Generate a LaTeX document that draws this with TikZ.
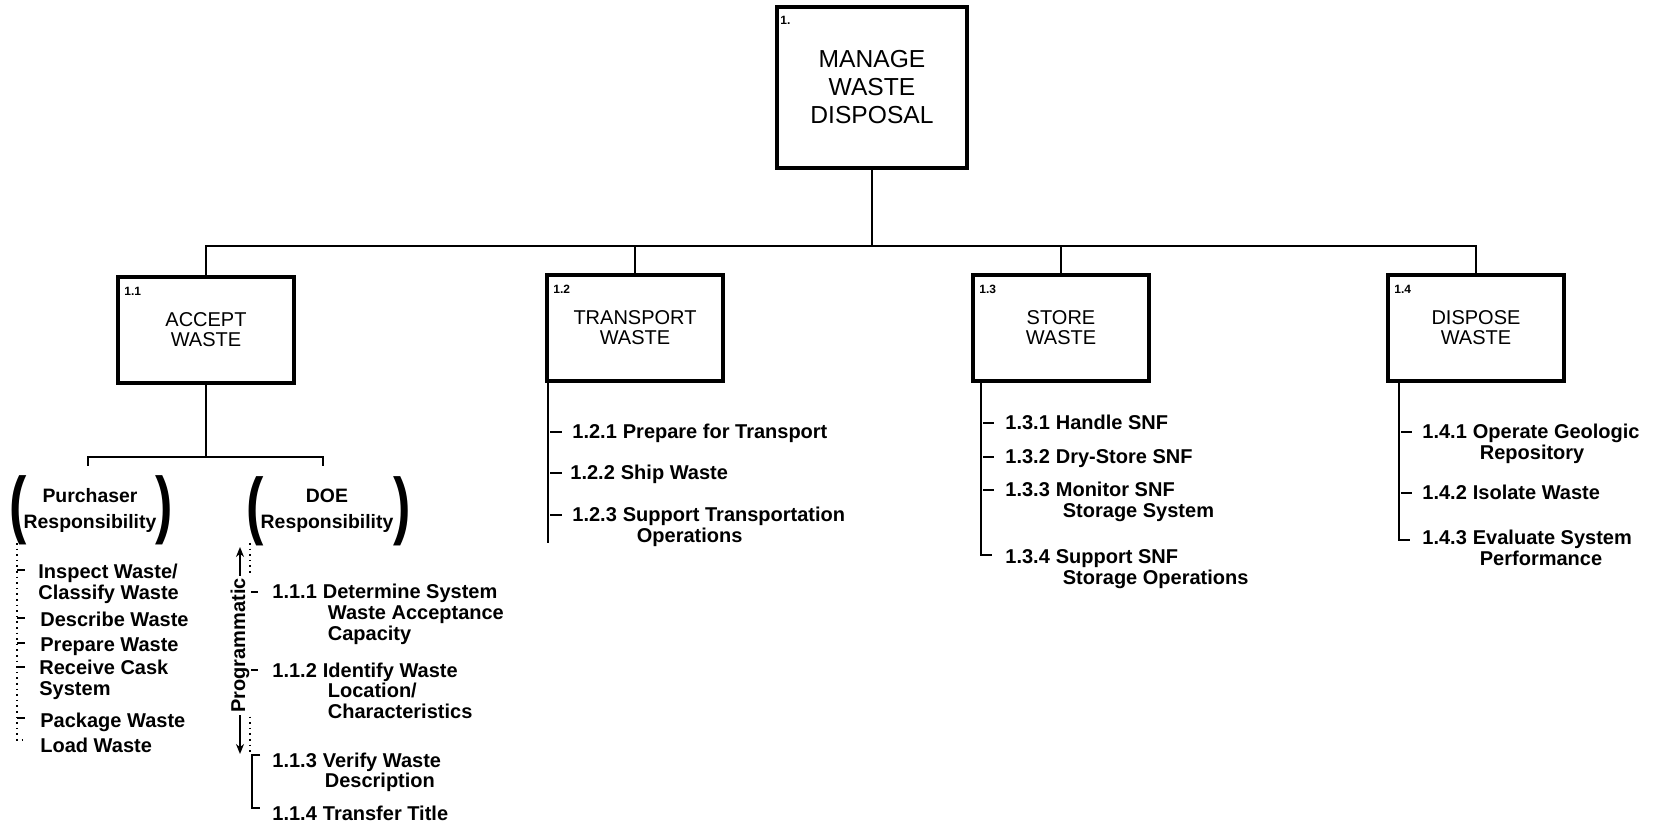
\documentclass[tikz,border=0pt]{standalone}
\usepackage{fontspec}
\setmainfont{Liberation Sans}
\usetikzlibrary{arrows.meta,calc}
\newcommand{\wbsitem}[2]{\begin{tabular}[t]{@{}l@{\hspace{3pt}}l@{}}#1&#2\end{tabular}}
\newcommand{\wbslines}[1]{\begin{tabular}[t]{@{}l@{}}#1\end{tabular}}
\newcommand{\bigparen}[1]{\scalebox{1}[1.43]{\fontsize{26}{26}\selectfont\bfseries #1}}
\begin{document}
\begin{tikzpicture}[x=0.5pt,y=-0.5pt,
 box/.style={draw,line width=2pt,inner sep=0pt,minimum width=88pt,minimum height=53pt,align=center,font=\fontsize{10}{10}\selectfont},
 topbox/.style={draw,line width=2pt,inner sep=0pt,minimum width=95pt,minimum height=80.5pt,align=center,font=\fontsize{12.3}{14}\selectfont},
 num/.style={inner sep=0pt,anchor=north west,font=\bfseries\fontsize{6}{6}\selectfont},
 item/.style={inner sep=0pt,anchor=base west,font=\bfseries\fontsize{10}{10.3}\selectfont},
 grp/.style={inner sep=0pt,align=center,font=\bfseries\fontsize{9.7}{13}\selectfont},
 paren/.style={inner sep=0pt},
 conn/.style={line width=1.2pt},
 tick/.style={line width=0.8pt},
 dotl/.style={line width=0.8pt,dotted},
]
\fill[white] (0,0) rectangle (1671,833);
\useasboundingbox (0,0) rectangle (1671,833);

% boxes
\node[topbox] (top) at (872,87.5) {MANAGE\\WASTE\\DISPOSAL};
\node[num] (ntop) at ($(top.north west)+(5,11)$) {1.};
\node[box] (b1) at (206,330) {ACCEPT\\WASTE};
\node[box] (b2) at (635,328) {TRANSPORT\\WASTE};
\node[box] (b3) at (1061,328) {STORE\\WASTE};
\node[box] (b4) at (1476,328) {DISPOSE\\WASTE};
\node[num] (n1) at ($(b1.north west)+(8,12)$) {1.1};
\node[num] (n2) at ($(b2.north west)+(8,12)$) {1.2};
\node[num] (n3) at ($(b3.north west)+(8,12)$) {1.3};
\node[num] (n4) at ($(b4.north west)+(8,12)$) {1.4};

% main bus
\coordinate (bus) at (872,246);
\draw[conn] (top.south) -- (bus);
\draw[conn] (b1.north) |- (bus) -| (b4.north);
\draw[conn] (b2.north) -- (b2.north |- bus);
\draw[conn] (b3.north) -- (b3.north |- bus);

% accept waste sub-bus
\coordinate (sub) at (206,457);
\coordinate (subL) at (88,466);
\coordinate (subR) at (323,466);
\draw[conn] (b1.south) -- (sub);
\draw[conn] (subL) |- (sub) -| (subR);

% responsibility groups
\node[grp] (pur) at (90,510) {Purchaser\\Responsibility};
\node[paren] (purL) at (18.5,510) {\bigparen{(}};
\node[paren] (purR) at (164,510) {\bigparen{)}};
\node[grp] (doe) at (327,511) {DOE\\Responsibility};
\node[paren] (doeL) at (255,511) {\bigparen{(}};
\node[paren] (doeR) at (402,511) {\bigparen{)}};

% purchaser items
\node[item] (pi1) at (38,579) {\wbslines{Inspect Waste/\\Classify Waste}};
\node[item] (pi2) at (40,627) {Describe Waste};
\node[item] (pi3) at (40,652) {Prepare Waste};
\node[item] (pi4) at (39,675) {\wbslines{Receive Cask\\System}};
\node[item] (pi5) at (40,727) {Package Waste};
\node[item] (pi6) at (40,752) {Load Waste};
\coordinate (pv) at (17,543);
\draw[dotl] (pv) -- (17,740) -- (25,740);
\foreach \yy in {570,618,643,667,718} \draw[tick] (17,\yy) -- (25,\yy);

% DOE items
\node[item] (d1) at (272,599) {\wbsitem{1.1.1}{Determine System\\&\hspace{2.5pt}Waste Acceptance\\&\hspace{2.5pt}Capacity}};
\node[item] (d2) at (272,677) {\wbsitem{1.1.2}{Identify Waste\\&\hspace{2.5pt}Location/\\&\hspace{2.5pt}Characteristics}};
\node[item] (d3) at (272,767) {\wbsitem{1.1.3}{Verify Waste\\&\hspace{1pt}Description}};
\node[item] (d4) at (272,820) {\wbsitem{1.1.4}{Transfer Title}};
\coordinate (dv) at (250,543);
\draw[dotl] (dv) -- (250,752);
\foreach \yy in {592,670} \draw[tick] (250,\yy) -- (258,\yy);
\draw[line width=1pt] (260,755) -- (252,755) -- (252,808) -- (260,808);

% programmatic arrow
\node[rotate=90,fill=white,inner sep=1pt,font=\bfseries\fontsize{10}{10}\selectfont] (prog) at (240,645.5) {Programmatic};
\draw[line width=1pt,-{Stealth[length=5pt,width=4pt]}] (prog.east) -- (240,547);
\draw[line width=1pt,-{Stealth[length=5pt,width=4pt]}] (prog.west) -- (240,754);

% transport items
\node[item] (t1) at (572,439) {\wbsitem{1.2.1}{Prepare for Transport}};
\node[item] (t2) at (570,480) {\wbsitem{1.2.2}{Ship Waste}};
\node[item] (t3) at (572,522) {\wbsitem{1.2.3}{Support Transportation\\&\hspace{7pt}Operations}};
\draw[conn] ([xshift=1.5pt]b2.south west) -- ++(0,160);
\foreach \yy in {432,473,515} \draw[conn] (550,\yy) -- (562,\yy);

% store items
\node[item] (s1) at (1005,430) {\wbsitem{1.3.1}{Handle SNF}};
\node[item] (s2) at (1005,464) {\wbsitem{1.3.2}{Dry-Store SNF}};
\node[item] (s3) at (1005,497) {\wbsitem{1.3.3}{Monitor SNF\\&\hspace{3.5pt}Storage System}};
\node[item] (s4) at (1005,564) {\wbsitem{1.3.4}{Support SNF\\&\hspace{3.5pt}Storage Operations}};
\draw[conn] ([xshift=5pt]b3.south west) -- ++(0,172) -- ++(11,0);
\foreach \yy in {423,457,490} \draw[conn] (983,\yy) -- (994,\yy);

% dispose items
\node[item] (p1) at (1422,439) {\wbsitem{1.4.1}{Operate Geologic\\&\hspace{3.5pt}Repository}};
\node[item] (p2) at (1422,500) {\wbsitem{1.4.2}{Isolate Waste}};
\node[item] (p3) at (1422,545) {\wbsitem{1.4.3}{Evaluate System\\&\hspace{3.5pt}Performance}};
\draw[conn] ([xshift=6.5pt]b4.south west) -- ++(0,157) -- ++(11,0);
\foreach \yy in {432,493} \draw[conn] (1401,\yy) -- (1412,\yy);
\end{tikzpicture}
\end{document}
